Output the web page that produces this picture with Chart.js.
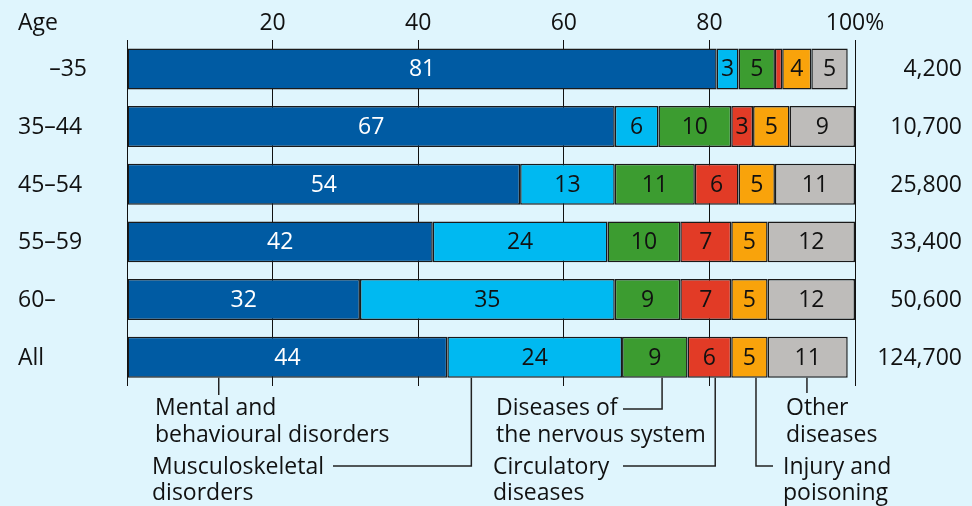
<!DOCTYPE html>
<html>
<head>
<meta charset="utf-8">
<script src="https://cdn.jsdelivr.net/npm/chart.js@4.4.1/dist/chart.umd.min.js"></script>
<style>
  html, body { margin: 0; padding: 0; background: #dff5fd; }
  canvas { display: block; }
</style>
</head>
<body>
<canvas id="c" width="972" height="506"></canvas>
<script>
// Age groups and the share (%) of each cause of disability pension
const ageGroups = ['–35', '35–44', '45–54', '55–59', '60–', 'All'];
const mental        = [81, 67, 54, 42, 32, 44];
const musculo       = [3, 6, 13, 24, 35, 24];
const nervous       = [5, 10, 11, 10, 9, 9];
const circulatory   = [1, 3, 6, 7, 7, 6];
const injury        = [4, 5, 5, 5, 5, 5];
const other         = [5, 9, 11, 12, 12, 11];
const totals        = ['4,200', '10,700', '25,800', '33,400', '50,600', '124,700'];
const xTicks        = [20, 40, 60, 80, 100];

// Callout captions under the "All" bar, with the % position their leader line points at
const callouts = [
  { lines: ['Mental and', 'behavioural disorders'], at: 12.6 },
  { lines: ['Musculoskeletal', 'disorders'], at: 47.3 },
  { lines: ['Diseases of', 'the nervous system'], at: 73.5 },
  { lines: ['Circulatory', 'diseases'], at: 80.8 },
  { lines: ['Other', 'diseases'], at: 93.4 },
  { lines: ['Injury and', 'poisoning'], at: 86.4 }
];

const FONT = '"Open Sans", "Noto Sans", sans-serif';
const FS = 23;
const INK = '#111111';

const series = [
  { label: 'Mental and behavioural disorders', data: mental, color: '#005ba3', text: '#ffffff' },
  { label: 'Musculoskeletal disorders', data: musculo, color: '#00b9f1', text: INK },
  { label: 'Diseases of the nervous system', data: nervous, color: '#3c9c30', text: INK },
  { label: 'Circulatory diseases', data: circulatory, color: '#e23b26', text: INK },
  { label: 'Injury and poisoning', data: injury, color: '#f9a30b', text: INK },
  { label: 'Other diseases', data: other, color: '#bebcba', text: INK }
];

// Values inside the segments, age labels on the left, totals on the right, callouts below
const annotate = {
  id: 'annotate',
  afterDatasetsDraw(chart) {
    const ctx = chart.ctx;
    const y = chart.scales.y;
    const x = chart.scales.x;
    ctx.save();
    ctx.font = FS + 'px ' + FONT;
    ctx.textBaseline = 'middle';

    // segment values
    chart.data.datasets.forEach((ds, di) => {
      const meta = chart.getDatasetMeta(di);
      meta.data.forEach((bar, i) => {
        const v = ds.data[i];
        if (v < 2) return;
        ctx.fillStyle = series[di].text;
        ctx.textAlign = 'center';
        ctx.fillText(String(v), (bar.x + bar.base) / 2, bar.y + 1);
      });
    });

    // header
    ctx.fillStyle = INK;
    ctx.textAlign = 'left';
    ctx.fillText('Age', 18, 23);

    // age labels and totals
    ageGroups.forEach((g, i) => {
      const cy = y.getPixelForValue(i) + 1;
      if (g.startsWith('–')) {
        ctx.textAlign = 'right';
        ctx.fillText(g, 87, cy);
      } else {
        ctx.textAlign = 'left';
        ctx.fillText(g, 18, cy);
      }
      ctx.textAlign = 'right';
      ctx.fillText(totals[i], 962, cy);
    });

    // callouts under the last bar
    const lastMeta = chart.getDatasetMeta(0).data[ageGroups.length - 1];
    const barBottom = lastMeta.y + lastMeta.height / 2;
    const px = c => x.getPixelForValue(c.at);
    ctx.strokeStyle = '#222222';
    ctx.lineWidth = 1.5;
    ctx.textBaseline = 'alphabetic';
    ctx.textAlign = 'left';

    const line = pts => {
      ctx.beginPath();
      ctx.moveTo(pts[0][0], pts[0][1]);
      for (let k = 1; k < pts.length; k++) ctx.lineTo(pts[k][0], pts[k][1]);
      ctx.stroke();
    };

    // mental
    line([[px(callouts[0]), barBottom], [px(callouts[0]), 395]]);
    ctx.fillText(callouts[0].lines[0], 155, 415);
    ctx.fillText(callouts[0].lines[1], 155, 442);
    // musculoskeletal
    line([[px(callouts[1]), barBottom], [px(callouts[1]), 466], [333, 466]]);
    ctx.fillText(callouts[1].lines[0], 152, 474);
    ctx.fillText(callouts[1].lines[1], 152, 500);
    // nervous system
    line([[px(callouts[2]), barBottom], [px(callouts[2]), 409], [623, 409]]);
    ctx.fillText(callouts[2].lines[0], 496, 415);
    ctx.fillText(callouts[2].lines[1], 496, 442);
    // circulatory
    line([[px(callouts[3]), barBottom], [px(callouts[3]), 466], [623, 466]]);
    ctx.fillText(callouts[3].lines[0], 493, 474);
    ctx.fillText(callouts[3].lines[1], 493, 500);
    // other
    line([[px(callouts[4]), barBottom], [px(callouts[4]), 393]]);
    ctx.fillText(callouts[4].lines[0], 786, 415);
    ctx.fillText(callouts[4].lines[1], 786, 442);
    // injury
    line([[px(callouts[5]), barBottom], [px(callouts[5]), 466], [773, 466]]);
    ctx.fillText(callouts[5].lines[0], 783, 474);
    ctx.fillText(callouts[5].lines[1], 783, 500);

    ctx.restore();
  }
};

new Chart(document.getElementById('c'), {
  type: 'bar',
  data: {
    labels: ageGroups,
    datasets: series.map(s => ({
      label: s.label,
      data: s.data,
      backgroundColor: s.color,
      borderColor: '#1a1a1a',
      borderWidth: 1.5,
      borderSkipped: false,
      barPercentage: 0.71,
      categoryPercentage: 1
    }))
  },
  options: {
    indexAxis: 'y',
    responsive: false,
    animation: false,
    devicePixelRatio: 1,
    layout: { padding: { left: 127, right: 117, top: 6.5, bottom: 120 } },
    plugins: { legend: { display: false }, tooltip: { enabled: false } },
    scales: {
      x: {
        position: 'top',
        stacked: true,
        min: 0,
        max: 100,
        afterBuildTicks: axis => { axis.ticks = [0].concat(xTicks).map(v => ({ value: v })); },
        ticks: {
          padding: 3,
          color: INK,
          font: { family: FONT, size: FS },
          callback: v => v === 0 ? '' : (v === 100 ? '100%' : String(v))
        },
        grid: { color: '#111111', lineWidth: 1, drawTicks: false },
        border: { display: false }
      },
      y: {
        stacked: true,
        display: false
      }
    }
  },
  plugins: [annotate]
});
</script>
</body>
</html>
